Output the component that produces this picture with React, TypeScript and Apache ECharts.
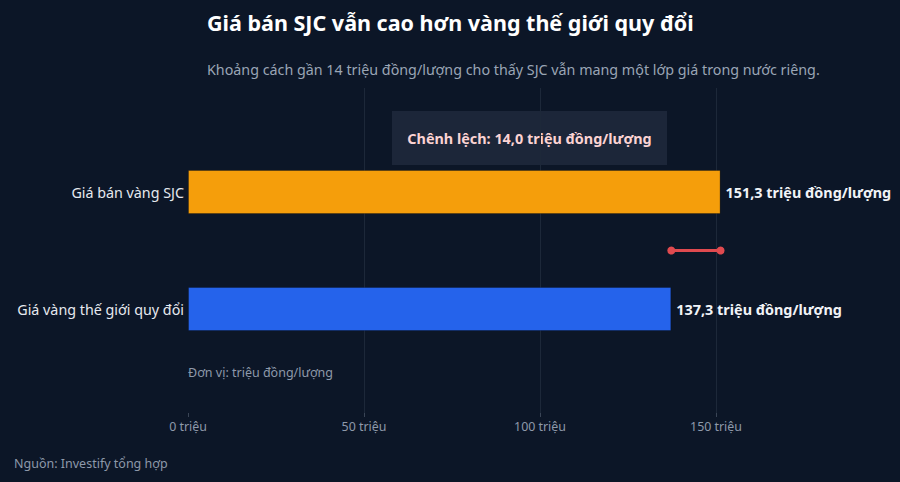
import React, { useEffect, useRef } from "react";
import * as echarts from "echarts";

const categories = ["Giá bán vàng SJC", "", "Giá vàng thế giới quy đổi"];
const barValues = [151.3, null, 137.3];
const barColors = ["#f59e0b", "transparent", "#2563eb"];
const gapValues = [137.3, 151.3];
const gapLabel = "Chênh lệch: 14,0 triệu đồng/lượng";
const tickValues = [0, 50, 100, 150];
const titleText = "Giá bán SJC vẫn cao hơn vàng thế giới quy đổi";
const subtitleText = "Khoảng cách gần 14 triệu đồng/lượng cho thấy SJC vẫn mang một lớp giá trong nước riêng.";
const unitText = "Đơn vị: triệu đồng/lượng";
const sourceText = "Nguồn: Investify tổng hợp";

const fmt = (v: number) => v.toFixed(1).replace(".", ",") + " triệu đồng/lượng";
const FONT = "'Noto Sans', 'Open Sans', sans-serif";

export default function App() {
  const ref = useRef<HTMLDivElement>(null);
  useEffect(() => {
    if (!ref.current) return;
    const chart = echarts.init(ref.current, undefined, { renderer: "svg" });
    const X_MIN = 0;
    const X_MAX = 180;
    const left = 188;
    const right = 78.4;
    chart.setOption({
      animation: false,
      backgroundColor: "#0c1627",
      textStyle: { fontFamily: FONT },
      title: [
        {
          text: titleText,
          left: 207,
          top: 11,
          padding: 0,
          textStyle: { color: "#ffffff", fontSize: 21.5, fontWeight: "bold", fontFamily: FONT },
        },
        {
          text: subtitleText,
          left: 207,
          top: 62,
          padding: 0,
          textStyle: { color: "#9aa5b5", fontSize: 14.3, fontWeight: "normal", fontFamily: FONT },
        },
      ],
      grid: [
        { left, right, top: 162.75, height: 175.5 },
        { left, right, top: 88, bottom: 69 },
      ],
      xAxis: [
        {
          gridIndex: 0,
          type: "value",
          min: X_MIN,
          max: X_MAX,
          interval: 50,
          show: false,
        },
        {
          gridIndex: 1,
          type: "value",
          min: X_MIN,
          max: X_MAX,
          interval: 50,
          axisLine: { show: false },
          axisTick: { show: true, length: 4, lineStyle: { color: "#3a4556" } },
          axisLabel: {
            color: "#8e99aa",
            fontSize: 12.4,
            fontFamily: FONT,
            margin: 7,
            formatter: (v: number) => (tickValues.includes(v) ? v + " triệu" : ""),
            showMaxLabel: false,
          },
          splitLine: {
            show: true,
            showMinLine: false,
            showMaxLine: false,
            lineStyle: { color: "#1d2839", width: 1 },
          },
        },
      ],
      yAxis: [
        {
          gridIndex: 0,
          type: "category",
          data: categories,
          inverse: true,
          axisLine: { show: false },
          axisTick: { show: false },
          axisLabel: { color: "#e6e9ef", fontSize: 14.3, fontFamily: FONT, margin: 4 },
          splitLine: { show: false },
        },
        {
          gridIndex: 1,
          type: "value",
          show: false,
        },
      ],
      series: [
        {
          type: "bar",
          xAxisIndex: 0,
          yAxisIndex: 0,
          barWidth: 44,
          data: barValues.map((v, i) => ({
            value: v,
            itemStyle: { color: barColors[i], borderColor: "rgba(0,0,0,0.25)", borderWidth: 1 },
          })),
          label: {
            show: true,
            position: "right",
            distance: 5,
            color: "#f1f3f7",
            fontSize: 14.4,
            fontWeight: "bold",
            fontFamily: FONT,
            formatter: (p: any) => (p.value == null ? "" : fmt(p.value)),
          },
        },
        {
          type: "line",
          xAxisIndex: 0,
          yAxisIndex: 0,
          data: gapValues.map((v) => [v, 1]),
          symbol: "circle",
          symbolSize: 8,
          lineStyle: { color: "#e04a4f", width: 3 },
          itemStyle: { color: "#e04a4f" },
        },
      ],
      graphic: [
        {
          type: "rect",
          shape: { x: 392, y: 111, width: 275, height: 54 },
          style: { fill: "#1c2639" },
        },
        {
          type: "text",
          x: 529.5,
          y: 138,
          style: {
            text: gapLabel,
            fill: "#fbd3d3",
            fontSize: 14.4,
            fontWeight: "bold",
            fontFamily: FONT,
            align: "center",
            verticalAlign: "middle",
          },
        },
        {
          type: "text",
          x: 188,
          y: 372,
          style: {
            text: unitText,
            fill: "#8e99aa",
            fontSize: 12.5,
            fontFamily: FONT,
            align: "left",
            verticalAlign: "middle",
          },
        },
        {
          type: "text",
          x: 14,
          y: 463,
          style: {
            text: sourceText,
            fill: "#8e99aa",
            fontSize: 12.5,
            fontFamily: FONT,
            align: "left",
            verticalAlign: "middle",
          },
        },
      ],
    });
    return () => chart.dispose();
  }, []);
  return <div ref={ref} style={{ width: 900, height: 482, position: "fixed", left: 0, top: 0 }} />;
}
